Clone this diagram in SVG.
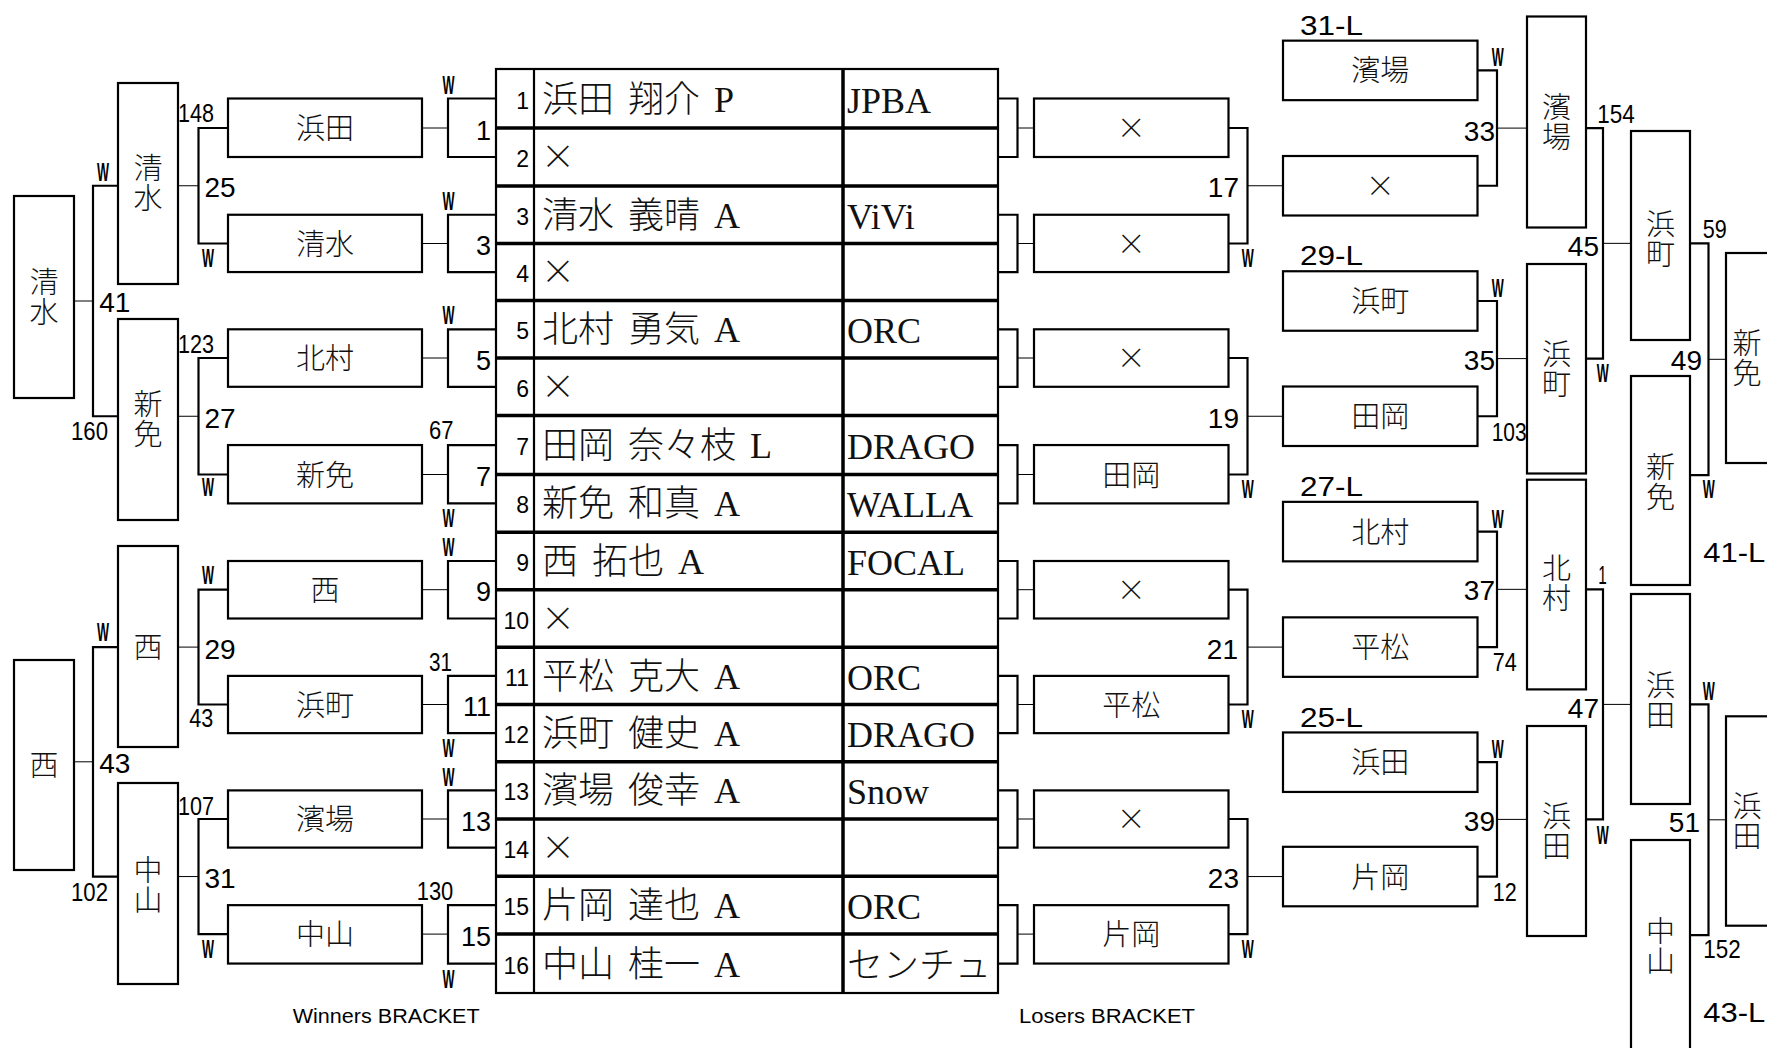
<svg xmlns="http://www.w3.org/2000/svg" width="1767" height="1048" viewBox="0 0 1767 1048">
<style>
.box{fill:#fff;stroke:#000;stroke-width:2.2}
.br{fill:none;stroke:#000;stroke-width:2.2}
.thin{fill:none;stroke:#000;stroke-width:1}
.tb{fill:none;stroke:#000;stroke-width:2.2}
.sep{fill:none;stroke:#000;stroke-width:3.5}
.jp{font-family:"Noto Sans CJK JP",sans-serif;font-size:29px;font-weight:300;text-anchor:middle;fill:#111}
.jv{font-family:"Noto Sans CJK JP",sans-serif;font-size:29px;font-weight:300;text-anchor:middle;fill:#111;writing-mode:vertical-rl;letter-spacing:1px}
.num{font-family:"Liberation Sans",Arial,sans-serif;font-size:28px;fill:#000}
.ne{font-family:"Liberation Sans",Arial,sans-serif;font-size:27px;fill:#000;text-anchor:end}
.sm{font-family:"Liberation Sans",Arial,sans-serif;font-size:26px;fill:#000}
.w{font-weight:bold}
.rn{font-family:"Liberation Sans",Arial,sans-serif;font-size:23px;fill:#000;text-anchor:end}
.nm{font-family:"Liberation Serif","Noto Sans CJK JP",serif;font-size:36px;font-weight:300;fill:#111;word-spacing:5px}
.x{font-family:"Noto Sans CJK JP",sans-serif;font-size:34px;font-weight:300;fill:#111}
.cap{font-family:"Liberation Sans",Arial,sans-serif;font-size:20.5px;fill:#000}
</style>

<g id="connectors">
  <path class="br" d="M496,98.5 H448 V157 H496"/>
  <path class="br" d="M496,214.75 H448 V272.05 H496"/>
  <path class="br" d="M496,329.3 H448 V386.8 H496"/>
  <path class="br" d="M496,445.05 H448 V503.4 H496"/>
  <path class="br" d="M496,561 H448 V618.5 H496"/>
  <path class="br" d="M496,675.9 H448 V733.15 H496"/>
  <path class="br" d="M496,790.4 H448 V847.6 H496"/>
  <path class="br" d="M496,905.15 H448 V963.55 H496"/>
  <path class="thin" d="M422,128 H448 M422,243.5 H448 M422,358 H448 M422,474.5 H448 M422,589.7 H448 M422,704.5 H448 M422,819 H448 M422,934.1 H448"/>
  <path class="br" d="M228,128 H198.5 V243.5 H228"/>
  <path class="br" d="M228,358 H198.5 V474.5 H228"/>
  <path class="br" d="M228,589.7 H198.5 V704.5 H228"/>
  <path class="br" d="M228,819 H198.5 V934.1 H228"/>
  <path class="thin" d="M198.5,185.75 H178 M198.5,416.25 H178 M198.5,647.1 H178 M198.5,876.55 H178"/>
  <path class="br" d="M118,185.75 H93 V416.25 H118"/>
  <path class="br" d="M118,647.1 H93 V876.55 H118"/>
  <path class="thin" d="M93,301 H74 M93,761.8 H74"/>
  <path class="br" d="M998,98.5 H1017.5 V157 H998"/>
  <path class="br" d="M998,214.75 H1017.5 V272.05 H998"/>
  <path class="br" d="M998,329.3 H1017.5 V386.8 H998"/>
  <path class="br" d="M998,445.05 H1017.5 V503.4 H998"/>
  <path class="br" d="M998,561 H1017.5 V618.5 H998"/>
  <path class="br" d="M998,675.9 H1017.5 V733.15 H998"/>
  <path class="br" d="M998,790.4 H1017.5 V847.6 H998"/>
  <path class="br" d="M998,905.15 H1017.5 V963.55 H998"/>
  <path class="thin" d="M1017.5,128 H1034 M1017.5,243.5 H1034 M1017.5,358 H1034 M1017.5,474.5 H1034 M1017.5,589.7 H1034 M1017.5,704.5 H1034 M1017.5,819 H1034 M1017.5,934.1 H1034"/>
  <path class="br" d="M1228.5,128 H1247.5 V243.5 H1228.5"/>
  <path class="br" d="M1228.5,358 H1247.5 V474.5 H1228.5"/>
  <path class="br" d="M1228.5,589.7 H1247.5 V704.5 H1228.5"/>
  <path class="br" d="M1228.5,819 H1247.5 V934.1 H1228.5"/>
  <path class="thin" d="M1247.5,185.75 H1283 M1247.5,416.25 H1283 M1247.5,647.1 H1283 M1247.5,876.55 H1283"/>
  <path class="br" d="M1477.5,70.4 H1497 V185.75 H1477.5"/>
  <path class="br" d="M1477.5,301 H1497 V416.25 H1477.5"/>
  <path class="br" d="M1477.5,531.6 H1497 V647.1 H1477.5"/>
  <path class="br" d="M1477.5,762.2 H1497 V876.55 H1477.5"/>
  <path class="thin" d="M1497,128.1 H1527 M1497,358.6 H1527 M1497,589.35 H1527 M1497,819.4 H1527"/>
  <path class="br" d="M1586,128.1 H1603 V358.6 H1586"/>
  <path class="br" d="M1586,589.35 H1603 V819.4 H1586"/>
  <path class="thin" d="M1603,243.35 H1631 M1603,704.4 H1631"/>
  <path class="br" d="M1690,243.35 H1708.5 V475.2 H1690"/>
  <path class="br" d="M1690,704.4 H1708.5 V935.2 H1690"/>
  <path class="thin" d="M1708.5,359.3 H1726 M1708.5,819.8 H1726"/>
</g>

<g id="labels">
  <g class="sm w">
    <text x="97" y="181" textLength="12" lengthAdjust="spacingAndGlyphs">W</text>
    <text x="97" y="641" textLength="12" lengthAdjust="spacingAndGlyphs">W</text>
    <text x="202" y="267" textLength="12" lengthAdjust="spacingAndGlyphs">W</text>
    <text x="202" y="496" textLength="12" lengthAdjust="spacingAndGlyphs">W</text>
    <text x="202" y="584" textLength="12" lengthAdjust="spacingAndGlyphs">W</text>
    <text x="202" y="957.7" textLength="12" lengthAdjust="spacingAndGlyphs">W</text>
    <text x="442.5" y="94" textLength="12" lengthAdjust="spacingAndGlyphs">W</text>
    <text x="442.5" y="209.5" textLength="12" lengthAdjust="spacingAndGlyphs">W</text>
    <text x="442.5" y="324" textLength="12" lengthAdjust="spacingAndGlyphs">W</text>
    <text x="442.5" y="527" textLength="12" lengthAdjust="spacingAndGlyphs">W</text>
    <text x="442.5" y="556" textLength="12" lengthAdjust="spacingAndGlyphs">W</text>
    <text x="442.5" y="757" textLength="12" lengthAdjust="spacingAndGlyphs">W</text>
    <text x="442.5" y="785.5" textLength="12" lengthAdjust="spacingAndGlyphs">W</text>
    <text x="442.5" y="988" textLength="12" lengthAdjust="spacingAndGlyphs">W</text>
    <text x="1241.7" y="267" textLength="12" lengthAdjust="spacingAndGlyphs">W</text>
    <text x="1241.7" y="498" textLength="12" lengthAdjust="spacingAndGlyphs">W</text>
    <text x="1241.7" y="728" textLength="12" lengthAdjust="spacingAndGlyphs">W</text>
    <text x="1241.7" y="957.6" textLength="12" lengthAdjust="spacingAndGlyphs">W</text>
    <text x="1491.7" y="66" textLength="12" lengthAdjust="spacingAndGlyphs">W</text>
    <text x="1491.7" y="297" textLength="12" lengthAdjust="spacingAndGlyphs">W</text>
    <text x="1491.7" y="527.6" textLength="12" lengthAdjust="spacingAndGlyphs">W</text>
    <text x="1491.7" y="758.2" textLength="12" lengthAdjust="spacingAndGlyphs">W</text>
    <text x="1596.7" y="382" textLength="12" lengthAdjust="spacingAndGlyphs">W</text>
    <text x="1596.7" y="844" textLength="12" lengthAdjust="spacingAndGlyphs">W</text>
    <text x="1702.7" y="498" textLength="12" lengthAdjust="spacingAndGlyphs">W</text>
    <text x="1702.7" y="700" textLength="12" lengthAdjust="spacingAndGlyphs">W</text>
  </g>
  <g class="sm">
    <text x="71" y="439.7" textLength="37" lengthAdjust="spacingAndGlyphs">160</text>
    <text x="71" y="900.5" textLength="37" lengthAdjust="spacingAndGlyphs">102</text>
    <text x="178" y="122.3" textLength="36" lengthAdjust="spacingAndGlyphs">148</text>
    <text x="178" y="353" textLength="36" lengthAdjust="spacingAndGlyphs">123</text>
    <text x="189.3" y="727" textLength="24" lengthAdjust="spacingAndGlyphs">43</text>
    <text x="178" y="814.6" textLength="36" lengthAdjust="spacingAndGlyphs">107</text>
    <text x="429" y="439" textLength="24.5" lengthAdjust="spacingAndGlyphs">67</text>
    <text x="429" y="671" textLength="23" lengthAdjust="spacingAndGlyphs">31</text>
    <text x="416.7" y="900" textLength="36.6" lengthAdjust="spacingAndGlyphs">130</text>
    <text x="1491.7" y="440.8" textLength="35" lengthAdjust="spacingAndGlyphs">103</text>
    <text x="1492.7" y="670.5" textLength="24" lengthAdjust="spacingAndGlyphs">74</text>
    <text x="1492.7" y="900.5" textLength="24" lengthAdjust="spacingAndGlyphs">12</text>
    <text x="1597.3" y="122.5" textLength="37.5" lengthAdjust="spacingAndGlyphs">154</text>
    <text x="1598.3" y="584" textLength="8.5" lengthAdjust="spacingAndGlyphs">1</text>
    <text x="1702.7" y="237.6" textLength="24" lengthAdjust="spacingAndGlyphs">59</text>
    <text x="1703.3" y="957.7" textLength="37.4" lengthAdjust="spacingAndGlyphs">152</text>
  </g>
  <g class="num">
    <text x="99.3" y="312">41</text>
    <text x="99.3" y="773">43</text>
    <text x="204.5" y="197.2">25</text>
    <text x="204.5" y="427.8">27</text>
    <text x="204.5" y="658.6">29</text>
    <text x="204.5" y="888">31</text>
    <g text-anchor="end">
      <text x="1239" y="197.2">17</text>
      <text x="1239" y="427.8">19</text>
      <text x="1238" y="658.6">21</text>
      <text x="1239" y="888">23</text>
      <text x="1495" y="141">33</text>
      <text x="1495" y="370">35</text>
      <text x="1495" y="600">37</text>
      <text x="1495" y="831">39</text>
      <text x="1599" y="256">45</text>
      <text x="1599" y="718">47</text>
      <text x="1702" y="370">49</text>
      <text x="1700" y="832">51</text>
    </g>
    <text x="1300" y="34.6" textLength="63" lengthAdjust="spacingAndGlyphs">31-L</text>
    <text x="1300" y="265.3" textLength="63" lengthAdjust="spacingAndGlyphs">29-L</text>
    <text x="1300" y="496" textLength="63" lengthAdjust="spacingAndGlyphs">27-L</text>
    <text x="1300" y="726.8" textLength="63" lengthAdjust="spacingAndGlyphs">25-L</text>
    <text x="1703.3" y="562" textLength="62" lengthAdjust="spacingAndGlyphs">41-L</text>
    <text x="1703.3" y="1021.7" textLength="62" lengthAdjust="spacingAndGlyphs">43-L</text>
  </g>
  <g class="ne">
    <text x="491" y="139.5">1</text>
    <text x="491" y="255">3</text>
    <text x="491" y="369.5">5</text>
    <text x="491" y="486">7</text>
    <text x="491" y="601.2">9</text>
    <text x="491" y="716">11</text>
    <text x="491" y="830.5">13</text>
    <text x="491" y="945.6">15</text>
  </g>
  <text class="cap" x="292.7" y="1023.4" textLength="187" lengthAdjust="spacingAndGlyphs">Winners BRACKET</text>
  <text class="cap" x="1019" y="1023.4" textLength="176" lengthAdjust="spacingAndGlyphs">Losers BRACKET</text>
</g>

<g id="entry-table">
  <rect class="tb" x="496" y="69" width="502" height="924" fill="#fff"/>
  <path class="tb" d="M534,69 V993"/>
  <path class="sep" d="M843,69 V993"/>
  <path class="sep" d="M496,128 H998 M496,186 H998 M496,243.5 H998 M496,300.6 H998 M496,358 H998 M496,415.6 H998 M496,474.5 H998 M496,532.3 H998 M496,589.7 H998 M496,647.3 H998 M496,704.5 H998 M496,761.8 H998 M496,819 H998 M496,876.2 H998 M496,934.1 H998"/>
  <g class="rn">
    <text x="529" y="108.5">1</text>
    <text x="529" y="167">2</text>
    <text x="529" y="224.75">3</text>
    <text x="529" y="282">4</text>
    <text x="529" y="339.3">5</text>
    <text x="529" y="396.8">6</text>
    <text x="529" y="455">7</text>
    <text x="529" y="513.4">8</text>
    <text x="529" y="571">9</text>
    <text x="529" y="628.5">10</text>
    <text x="529" y="686">11</text>
    <text x="529" y="743.2">12</text>
    <text x="529" y="800.4">13</text>
    <text x="529" y="857.6">14</text>
    <text x="529" y="915.2">15</text>
    <text x="529" y="973.5">16</text>
  </g>
  <g class="nm">
    <text x="542" y="111.5">浜田 翔介 P</text>
    <text x="542" y="227.75">清水 義晴 A</text>
    <text x="542" y="342.3">北村 勇気 A</text>
    <text x="542" y="458">田岡 奈々枝 L</text>
    <text x="542" y="516.4">新免 和真 A</text>
    <text x="542" y="574">西 拓也 A</text>
    <text x="542" y="688.9">平松 克大 A</text>
    <text x="542" y="746.2">浜町 健史 A</text>
    <text x="542" y="803.4">濱場 俊幸 A</text>
    <text x="542" y="918.2">片岡 達也 A</text>
    <text x="542" y="976.5">中山 桂一 A</text>
    <text x="847" y="112.5">JPBA</text>
    <text x="847" y="228.75">ViVi</text>
    <text x="847" y="343.3">ORC</text>
    <text x="847" y="459">DRAGO</text>
    <text x="847" y="517.4">WALLA</text>
    <text x="847" y="575">FOCAL</text>
    <text x="847" y="689.9">ORC</text>
    <text x="847" y="747.2">DRAGO</text>
    <text x="847" y="804.4">Snow</text>
    <text x="847" y="919.2">ORC</text>
    <text x="847" y="977.5">センチュ</text>
  </g>
  <g class="x">
    <text x="541" y="169">×</text>
    <text x="541" y="284">×</text>
    <text x="541" y="399">×</text>
    <text x="541" y="630.5">×</text>
    <text x="541" y="859.6">×</text>
  </g>
</g>

<g id="w2-1"><rect class="box" x="228" y="98.5" width="194" height="58.5"/><text class="jp" x="325" y="139">浜田</text></g>
<g id="w2-2"><rect class="box" x="228" y="214.75" width="194" height="57.3"/><text class="jp" x="325" y="254.5">清水</text></g>
<g id="w2-3"><rect class="box" x="228" y="329.3" width="194" height="57.5"/><text class="jp" x="325" y="369">北村</text></g>
<g id="w2-4"><rect class="box" x="228" y="445.05" width="194" height="58.35"/><text class="jp" x="325" y="485.5">新免</text></g>
<g id="w2-5"><rect class="box" x="228" y="561" width="194" height="57.5"/><text class="jp" x="325" y="600.7">西</text></g>
<g id="w2-6"><rect class="box" x="228" y="675.9" width="194" height="57.25"/><text class="jp" x="325" y="715.5">浜町</text></g>
<g id="w2-7"><rect class="box" x="228" y="790.4" width="194" height="57.2"/><text class="jp" x="325" y="830">濱場</text></g>
<g id="w2-8"><rect class="box" x="228" y="905.15" width="194" height="58.4"/><text class="jp" x="325" y="945">中山</text></g>

<g id="w3-1"><rect class="box" x="118" y="83" width="60" height="201"/><text class="jv" x="148" y="183.5">清水</text></g>
<g id="w3-2"><rect class="box" x="118" y="319" width="60" height="201"/><text class="jv" x="148" y="419.5">新免</text></g>
<g id="w3-3"><rect class="box" x="118" y="546" width="60" height="201"/><text class="jp" x="148" y="657.5">西</text></g>
<g id="w3-4"><rect class="box" x="118" y="783" width="60" height="201"/><text class="jv" x="148" y="885">中山</text></g>

<g id="w4-1"><rect class="box" x="14" y="196" width="60" height="202"/><text class="jv" x="44" y="297.5">清水</text></g>
<g id="w4-2"><rect class="box" x="14" y="660" width="60" height="210"/><text class="jp" x="44" y="776">西</text></g>

<g id="l1-1"><rect class="box" x="1034" y="98.5" width="194.5" height="58.5"/><text class="jp" x="1131.3" y="139">×</text></g>
<g id="l1-2"><rect class="box" x="1034" y="214.75" width="194.5" height="57.3"/><text class="jp" x="1131.3" y="254.5">×</text></g>
<g id="l1-3"><rect class="box" x="1034" y="329.3" width="194.5" height="57.5"/><text class="jp" x="1131.3" y="369">×</text></g>
<g id="l1-4"><rect class="box" x="1034" y="445.05" width="194.5" height="58.35"/><text class="jp" x="1131.3" y="485.5">田岡</text></g>
<g id="l1-5"><rect class="box" x="1034" y="561" width="194.5" height="57.5"/><text class="jp" x="1131.3" y="600.7">×</text></g>
<g id="l1-6"><rect class="box" x="1034" y="675.9" width="194.5" height="57.25"/><text class="jp" x="1131.3" y="715.5">平松</text></g>
<g id="l1-7"><rect class="box" x="1034" y="790.4" width="194.5" height="57.2"/><text class="jp" x="1131.3" y="830">×</text></g>
<g id="l1-8"><rect class="box" x="1034" y="905.15" width="194.5" height="58.4"/><text class="jp" x="1131.3" y="945">片岡</text></g>

<g id="l2-1"><rect class="box" x="1283" y="40.65" width="194.5" height="59.5"/><text class="jp" x="1380.3" y="81.4">濱場</text></g>
<g id="l2-2"><rect class="box" x="1283" y="156" width="194.5" height="59.5"/><text class="jp" x="1380.3" y="196.75">×</text></g>
<g id="l2-3"><rect class="box" x="1283" y="271.25" width="194.5" height="59.5"/><text class="jp" x="1380.3" y="312">浜町</text></g>
<g id="l2-4"><rect class="box" x="1283" y="386.5" width="194.5" height="59.5"/><text class="jp" x="1380.3" y="427.25">田岡</text></g>
<g id="l2-5"><rect class="box" x="1283" y="501.85" width="194.5" height="59.5"/><text class="jp" x="1380.3" y="542.6">北村</text></g>
<g id="l2-6"><rect class="box" x="1283" y="617.35" width="194.5" height="59.5"/><text class="jp" x="1380.3" y="658.1">平松</text></g>
<g id="l2-7"><rect class="box" x="1283" y="732.45" width="194.5" height="59.5"/><text class="jp" x="1380.3" y="773.2">浜田</text></g>
<g id="l2-8"><rect class="box" x="1283" y="846.8" width="194.5" height="59.5"/><text class="jp" x="1380.3" y="887.55">片岡</text></g>

<g id="l3-1"><rect class="box" x="1527" y="16.5" width="59" height="211"/><text class="jv" x="1556.5" y="122">濱場</text></g>
<g id="l3-2"><rect class="box" x="1527" y="264" width="59" height="209.5"/><text class="jv" x="1556.5" y="369">浜町</text></g>
<g id="l3-3"><rect class="box" x="1527" y="479.7" width="59" height="209.7"/><text class="jv" x="1556.5" y="583">北村</text></g>
<g id="l3-4"><rect class="box" x="1527" y="726" width="59" height="210"/><text class="jv" x="1556.5" y="831">浜田</text></g>

<g id="l4-1"><rect class="box" x="1631" y="131" width="59" height="209"/><text class="jv" x="1660.5" y="239">浜町</text></g>
<g id="l4-2"><rect class="box" x="1631" y="376" width="59" height="209"/><text class="jv" x="1660.5" y="482">新免</text></g>
<g id="l4-3"><rect class="box" x="1631" y="594" width="59" height="210"/><text class="jv" x="1660.5" y="700">浜田</text></g>
<g id="l4-4"><rect class="box" x="1631" y="840" width="59" height="214"/><text class="jv" x="1660.5" y="946">中山</text></g>

<g id="l5-1"><rect class="box" x="1726" y="253" width="60" height="210"/><text class="jv" x="1747" y="358">新免</text></g>
<g id="l5-2"><rect class="box" x="1726" y="716.3" width="60" height="209.4"/><text class="jv" x="1747" y="821">浜田</text></g>
</svg>
